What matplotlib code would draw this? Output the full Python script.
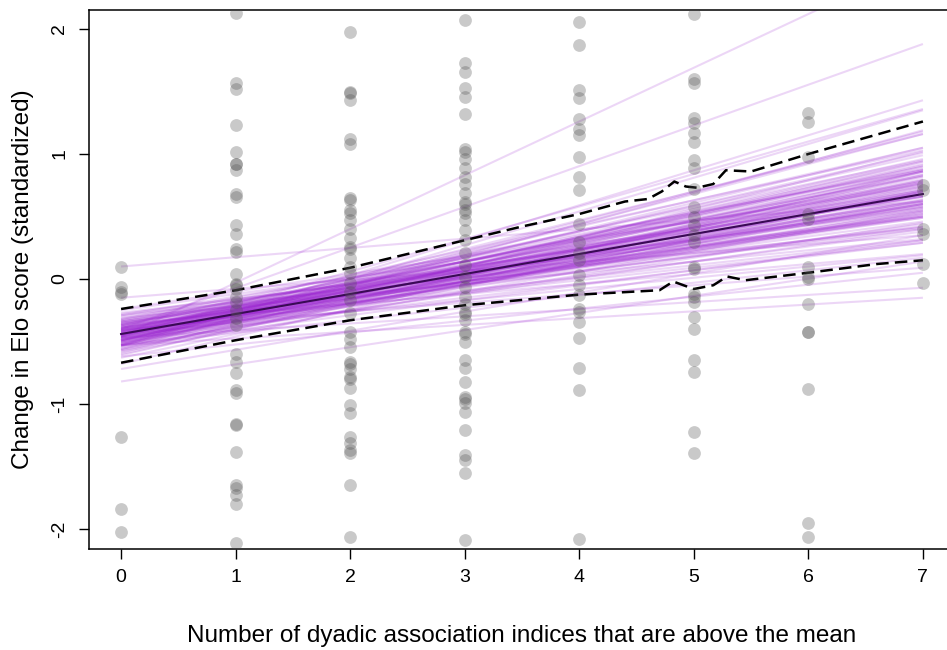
import matplotlib
matplotlib.use("Agg")
import matplotlib.pyplot as plt
import numpy as np

plt.rcParams['font.family'] = ['Liberation Sans', 'DejaVu Sans']

# ---- observed points (x = count of indices above mean, y = change in Elo) ----
pts_x0 = [0.10, -0.06, -0.10, -0.12, -1.26, -1.84, -2.02]
pts_x1 = [2.13, 1.57, 1.52, 1.23, 1.02, 0.92, 0.92, 0.87, 0.68, 0.66, 0.43, 0.36,
          0.24, 0.22, 0.04, -0.04, -0.05, -0.08, -0.14, -0.18, -0.25, -0.31, -0.37,
          -0.60, -0.66, -0.75, -0.89, -0.91, -1.16, -1.17, -1.38, -1.65, -1.67,
          -1.73, -1.80, -2.11]
pts_x2 = [1.98, 1.50, 1.49, 1.43, 1.12, 1.08, 0.65, 0.63, 0.55, 0.53, 0.47, 0.40,
          0.33, 0.26, 0.24, 0.17, 0.10, 0.05, -0.03, -0.10, -0.17, -0.27, -0.42,
          -0.48, -0.54, -0.66, -0.68, -0.72, -0.78, -0.80, -0.87, -1.01, -1.07,
          -1.26, -1.31, -1.37, -1.39, -1.65, -2.06]
pts_x3 = [2.07, 1.73, 1.66, 1.53, 1.46, 1.32, 1.04, 1.02, 0.96, 0.89, 0.82, 0.76,
          0.69, 0.62, 0.60, 0.55, 0.53, 0.47, 0.39, 0.31, 0.21, 0.11, 0.02, -0.06,
          -0.14, -0.20, -0.26, -0.28, -0.33, -0.42, -0.44, -0.50, -0.65, -0.71,
          -0.82, -0.94, -0.96, -0.99, -1.06, -1.21, -1.41, -1.45, -1.55, -2.09]
pts_x4 = [2.06, 1.87, 1.51, 1.45, 1.28, 1.20, 1.15, 0.98, 0.82, 0.71, 0.44, 0.30,
          0.21, 0.15, 0.03, -0.05, -0.13, -0.24, -0.26, -0.34, -0.47, -0.71, -0.89,
          -2.08]
pts_x5 = [2.12, 1.60, 1.57, 1.29, 1.25, 1.17, 1.10, 0.95, 0.89, 0.72, 0.58, 0.50,
          0.43, 0.35, 0.30, 0.10, 0.08, -0.12, -0.14, -0.18, -0.30, -0.40, -0.65,
          -0.74, -1.22, -1.39]
pts_x6 = [1.33, 1.26, 0.98, 0.52, 0.48, 0.10, 0.02, 0.00, -0.20, -0.42, -0.42,
          -0.88, -1.95, -2.06]
pts_x7 = [0.75, 0.71, 0.40, 0.36, 0.12, -0.03]
point_groups = [pts_x0, pts_x1, pts_x2, pts_x3, pts_x4, pts_x5, pts_x6, pts_x7]

# ---- posterior sample lines: value at x=0 and at x=7 ----
line_y0 = [-0.44, -0.48, -0.39, -0.53, -0.34, -0.50, -0.37, -0.49, -0.41, -0.43,
           -0.56, -0.32, -0.42, -0.50, -0.46, -0.42, -0.61, -0.36, -0.39, -0.49,
           -0.27, -0.59, -0.42, -0.42, -0.38, -0.58, -0.43, -0.49, -0.31, -0.47,
           -0.29, -0.48, -0.39, -0.56, -0.35, -0.63, -0.33, -0.47, -0.44, -0.37,
           -0.45, -0.54, -0.53, -0.35, -0.53, -0.25, -0.41, -0.51, -0.36, -0.39,
           -0.68, -0.46, -0.29, -0.52, -0.41, -0.45, -0.53, -0.38, -0.49, -0.32,
           -0.40, -0.44, -0.46, -0.51, -0.44, -0.46, -0.54, -0.34, -0.45, -0.53,
           -0.40, -0.47, -0.37, -0.53, -0.57, -0.24, -0.52, -0.49, -0.34, -0.50,
           -0.46, -0.40, 0.10, -0.53, -0.47, -0.82, -0.72, -0.15, -0.62,
           -0.40, -0.47, -0.36, -0.52, -0.43, -0.38, -0.49, -0.41, -0.45, -0.33,
           -0.55, -0.44, -0.39, -0.48, -0.42, -0.35, -0.51, -0.46, -0.30, -0.57,
           -0.43, -0.40, -0.47, -0.37, -0.50, -0.44, -0.41, -0.60, -0.28, -0.45]
line_y7 = [0.68, 0.78, 0.59, 0.87, 0.50, 0.55, 0.82, 1.05, 0.29, 0.90,
           0.70, 0.66, 0.49, 1.18, 0.38, 1.05, 0.86, 0.20, 0.73, 0.70,
           0.50, 1.02, 0.63, 0.42, 0.95, 0.54, 0.83, 0.91, 0.32, 0.51,
           0.76, 0.29, 0.52, 1.19, 0.42, 0.70, 0.58, 0.86, 0.19, 1.03,
           0.60, 1.35, 0.45, 0.49, 0.94, 0.66, 0.71, 0.68, 0.69, 0.31,
           0.86, 0.94, 0.41, 0.60, 0.50, 1.16, 0.31, 0.60, 0.77, 0.87,
           0.09, 0.75, 1.36, 0.40, 0.54, 1.01, 0.79, 0.78, 0.67, 0.17,
           0.86, 0.58, 0.40, 1.43, 0.83, 0.74, 1.16, 0.56, 0.57, 0.90,
           2.55, 1.88, 0.62, -0.15, -0.07, 0.14, 0.35, 0.35, 0.05,
           0.72, 0.64, 0.88, 0.74, 0.52, 0.46, 0.96, 0.80, 0.44, 0.71,
           0.62, 0.92, 0.66, 0.53, 0.76, 0.61, 0.82, 0.71, 0.62, 0.66,
           0.99, 0.57, 0.84, 0.69, 0.63, 0.60, 0.88, 0.77, 0.55, 0.79]

# ---- posterior mean line ----
mean_x = [0, 7]
mean_y = [-0.44, 0.68]

# ---- interval bounds (dashed) ----
upper_x = [0, 1, 2, 3, 3.5, 4, 4.4, 4.6, 4.72, 4.83, 4.93, 5.03, 5.17, 5.28, 5.5, 6.0, 6.5, 7]
upper_y = [-0.24, -0.09, 0.09, 0.31, 0.42, 0.52, 0.62, 0.64, 0.70, 0.78, 0.74, 0.73, 0.76,
           0.87, 0.86, 1.00, 1.13, 1.26]
lower_x = [0, 1, 2, 3, 4, 4.5, 4.7, 4.82, 5.0, 5.17, 5.29, 5.45, 6.0, 6.6, 7]
lower_y = [-0.67, -0.49, -0.33, -0.21, -0.125, -0.10, -0.09, -0.02, -0.08, -0.05, 0.02,
           -0.01, 0.05, 0.12, 0.15]

xticks = [0, 1, 2, 3, 4, 5, 6, 7]
yticks = [-2, -1, 0, 1, 2]
xlabel = "Number of dyadic association indices that are above the mean"
ylabel = "Change in Elo score (standardized)"

fig = plt.figure(figsize=(9.47, 6.5), dpi=100)
ax = fig.add_axes([89 / 947, 1 - 548.5 / 650, 866 / 947, 539 / 650])

for y0, y7 in zip(line_y0, line_y7):
    ax.plot([0, 7], [y0, y7], color=(0.6, 0.12, 0.82), alpha=0.18, lw=1.5,
            solid_capstyle='butt', zorder=2)

ax.plot(mean_x, mean_y, color='#3a0a55', lw=1.5, zorder=3)
ax.plot(upper_x, upper_y, color='black', lw=1.8, dashes=(5, 2.5), zorder=4)
ax.plot(lower_x, lower_y, color='black', lw=1.8, dashes=(5, 2.5), zorder=4)

for xv, ys in zip(xticks, point_groups):
    ax.plot([xv] * len(ys), ys, 'o', color=(0.3, 0.3, 0.3), alpha=0.3,
            markersize=9.2, markeredgewidth=0, zorder=5)

ax.set_xlim(-0.28, 7.28)
ax.set_ylim(-2.156, 2.156)
ax.set_xticks(xticks)
ax.set_yticks(yticks)
ax.set_xticklabels([str(v) for v in xticks])
ax.set_yticklabels([str(v) for v in yticks], rotation=90, va='center')
ax.tick_params(axis='both', direction='out', length=7, width=1, labelsize=14,
               color='black', pad=8)
for s in ax.spines.values():
    s.set_linewidth(1.1)
    s.set_color('black')

ax.set_xlabel(xlabel, fontsize=17.5, labelpad=28)
ax.set_ylabel(ylabel, fontsize=17.5, labelpad=12)

fig.savefig("out.png", dpi=100)
